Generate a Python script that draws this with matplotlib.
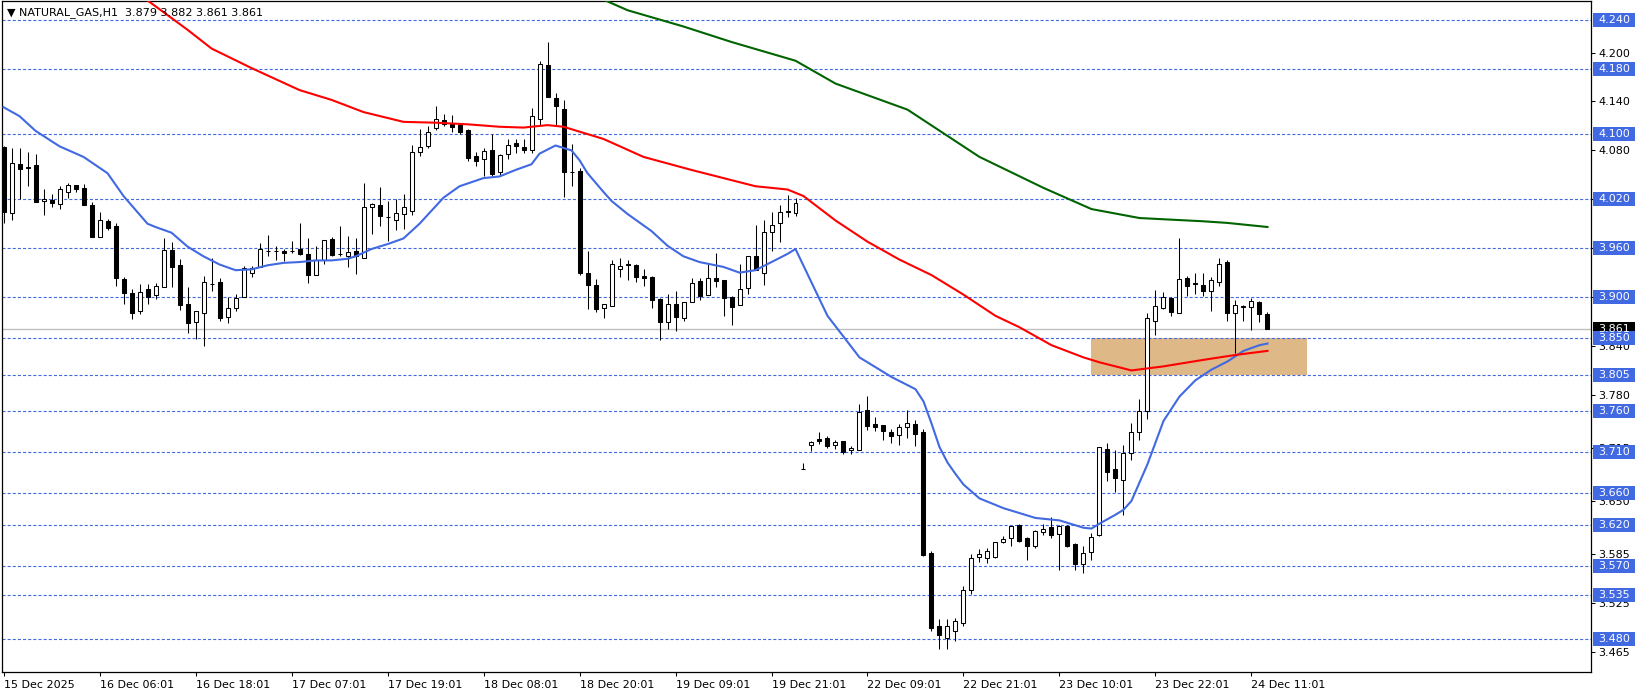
import numpy as np
import matplotlib
matplotlib.use("Agg")
import matplotlib.pyplot as plt
from matplotlib.patches import Rectangle
from matplotlib.transforms import blended_transform_factory

plt.rcParams['font.family'] = ['DejaVu Sans']
plt.rcParams['lines.scale_dashes'] = False

# свечи H1: open, high, low, close
opens = [4.084, 4.003, 4.063, 4.058, 4.062, 4.018, 4.019, 4.014, 4.029, 4.038,
         4.034, 4.013, 3.974, 3.993, 3.987, 3.922, 3.905, 3.883, 3.910, 3.902,
         3.912, 3.958, 3.939, 3.892, 3.870, 3.880, 3.916, 3.918, 3.876, 3.887,
         3.900, 3.930, 3.937, 3.957, 3.957, 3.956, 3.957, 3.959, 3.953, 3.927,
         3.945, 3.971, 3.953, 3.951, 3.956, 3.948, 4.011, 4.013, 3.998, 3.995,
         4.002, 4.006, 4.078, 4.085, 4.108, 4.117, 4.112, 4.111, 4.105, 4.073,
         4.070, 4.081, 4.053, 4.076, 4.089, 4.084, 4.081, 4.119, 4.185, 4.144,
         4.131, 4.054, 4.055, 3.929, 3.915, 3.887, 3.889, 3.935, 3.940, 3.939,
         3.926, 3.925, 3.898, 3.869, 3.891, 3.874, 3.894, 3.920, 3.903, 3.923,
         3.921, 3.900, 3.890, 3.911, 3.951, 3.930, 3.980, 3.991, 4.006, 4.003,
         3.689, 3.718, 3.726, 3.727, 3.718, 3.723, 3.712, 3.712, 3.761, 3.744,
         3.743, 3.735, 3.731, 3.741, 3.744, 3.735, 3.586, 3.496, 3.482, 3.490,
         3.500, 3.540, 3.581, 3.580, 3.581, 3.599, 3.604, 3.620, 3.604, 3.594,
         3.612, 3.618, 3.609, 3.619, 3.597, 3.572, 3.587, 3.608, 3.714, 3.689,
         3.676, 3.709, 3.735, 3.760, 3.871, 3.887, 3.899, 3.881, 3.924, 3.917,
         3.915, 3.907, 3.919, 3.943, 3.881, 3.889, 3.888, 3.894, 3.879]
highs = [4.086, 4.083, 4.083, 4.078, 4.076, 4.033, 4.027, 4.036, 4.040, 4.038,
         4.039, 4.017, 4.004, 3.996, 3.991, 3.925, 3.910, 3.916, 3.916, 3.917,
         3.973, 3.968, 3.947, 3.912, 3.883, 3.926, 3.948, 3.924, 3.900, 3.904,
         3.938, 3.938, 3.966, 3.976, 3.963, 3.959, 3.969, 3.991, 3.972, 3.963,
         3.970, 3.974, 3.987, 3.975, 3.972, 4.040, 4.016, 4.035, 4.018, 4.020,
         4.026, 4.087, 4.106, 4.110, 4.134, 4.125, 4.123, 4.112, 4.106, 4.078,
         4.083, 4.100, 4.076, 4.094, 4.094, 4.094, 4.132, 4.190, 4.213, 4.150,
         4.142, 4.088, 4.059, 3.957, 3.922, 3.891, 3.945, 3.948, 3.945, 3.940,
         3.935, 3.926, 3.899, 3.904, 3.907, 3.894, 3.924, 3.924, 3.941, 3.954,
         3.921, 3.901, 3.941, 3.950, 3.989, 3.995, 4.004, 4.013, 4.025, 4.022,
         3.696, 3.724, 3.734, 3.730, 3.725, 3.723, 3.717, 3.769, 3.779, 3.753,
         3.743, 3.738, 3.744, 3.762, 3.749, 3.738, 3.588, 3.505, 3.505, 3.506,
         3.545, 3.585, 3.591, 3.592, 3.600, 3.607, 3.619, 3.622, 3.606, 3.614,
         3.622, 3.630, 3.620, 3.620, 3.598, 3.594, 3.610, 3.716, 3.721, 3.712,
         3.718, 3.745, 3.775, 3.880, 3.909, 3.906, 3.900, 3.972, 3.926, 3.930,
         3.930, 3.925, 3.948, 3.946, 3.896, 3.890, 3.899, 3.895, 3.882]
lows = [3.991, 3.994, 4.020, 4.036, 4.017, 4.001, 4.011, 4.008, 4.022, 4.029,
        4.013, 3.974, 3.974, 3.982, 3.913, 3.891, 3.873, 3.879, 3.892, 3.898,
        3.912, 3.912, 3.884, 3.856, 3.849, 3.840, 3.908, 3.871, 3.868, 3.883,
        3.900, 3.925, 3.937, 3.950, 3.946, 3.944, 3.954, 3.952, 3.917, 3.927,
        3.941, 3.950, 3.950, 3.937, 3.928, 3.948, 3.977, 3.987, 3.969, 3.982,
        3.984, 4.001, 4.073, 4.083, 4.105, 4.110, 4.102, 4.100, 4.067, 4.061,
        4.049, 4.048, 4.049, 4.070, 4.077, 4.077, 4.077, 4.110, 4.145, 4.111,
        4.023, 4.036, 3.927, 3.885, 3.882, 3.874, 3.889, 3.925, 3.921, 3.918,
        3.914, 3.887, 3.847, 3.861, 3.858, 3.871, 3.894, 3.897, 3.903, 3.912,
        3.877, 3.866, 3.890, 3.904, 3.933, 3.915, 3.956, 3.968, 3.998, 4.000,
        3.689, 3.711, 3.720, 3.715, 3.714, 3.708, 3.708, 3.712, 3.737, 3.736,
        3.725, 3.721, 3.719, 3.727, 3.717, 3.582, 3.490, 3.468, 3.468, 3.478,
        3.497, 3.536, 3.575, 3.574, 3.580, 3.598, 3.595, 3.600, 3.577, 3.592,
        3.608, 3.604, 3.565, 3.593, 3.565, 3.562, 3.577, 3.607, 3.674, 3.661,
        3.633, 3.700, 3.725, 3.750, 3.853, 3.886, 3.877, 3.881, 3.901, 3.904,
        3.901, 3.883, 3.913, 3.871, 3.832, 3.871, 3.860, 3.870, 3.861]
closes = [4.004, 4.064, 4.057, 4.060, 4.017, 4.020, 4.016, 4.033, 4.038, 4.033,
          4.013, 3.974, 3.995, 3.985, 3.923, 3.905, 3.880, 3.906, 3.900, 3.914,
          3.958, 3.937, 3.890, 3.868, 3.883, 3.918, 3.916, 3.874, 3.887, 3.899,
          3.936, 3.936, 3.959, 3.957, 3.957, 3.954, 3.957, 3.953, 3.927, 3.945,
          3.970, 3.952, 3.953, 3.955, 3.950, 4.010, 4.014, 3.999, 3.998, 4.003,
          4.010, 4.078, 4.084, 4.102, 4.118, 4.112, 4.109, 4.103, 4.071, 4.067,
          4.079, 4.051, 4.074, 4.087, 4.086, 4.081, 4.122, 4.186, 4.146, 4.135,
          4.054, 4.054, 3.930, 3.915, 3.886, 3.891, 3.941, 3.938, 3.939, 3.925,
          3.924, 3.896, 3.870, 3.892, 3.875, 3.894, 3.917, 3.901, 3.924, 3.920,
          3.899, 3.888, 3.910, 3.950, 3.933, 3.980, 3.988, 4.005, 4.004, 4.016,
          3.689, 3.722, 3.724, 3.717, 3.722, 3.710, 3.715, 3.759, 3.742, 3.741,
          3.736, 3.730, 3.741, 3.746, 3.732, 3.584, 3.494, 3.486, 3.496, 3.503,
          3.540, 3.580, 3.585, 3.588, 3.600, 3.603, 3.619, 3.601, 3.595, 3.613,
          3.616, 3.608, 3.619, 3.595, 3.572, 3.586, 3.606, 3.716, 3.686, 3.678,
          3.709, 3.735, 3.760, 3.874, 3.889, 3.900, 3.882, 3.922, 3.914, 3.916,
          3.908, 3.921, 3.941, 3.880, 3.890, 3.888, 3.895, 3.879, 3.861]

time_labels = ['15 Dec 2025', '16 Dec 06:01', '16 Dec 18:01', '17 Dec 07:01',
               '17 Dec 19:01', '18 Dec 08:01', '18 Dec 20:01', '19 Dec 09:01',
               '19 Dec 21:01', '22 Dec 09:01', '22 Dec 21:01', '23 Dec 10:01',
               '23 Dec 22:01', '24 Dec 11:01']

# скользящие средние (номер бара -> значение)
blue_bars = [0, 2, 4, 7, 10, 13, 15, 18, 19, 21, 23, 25, 27, 29, 31, 33, 35, 37, 39,
             41, 43, 44, 46, 48, 50, 52, 55, 57, 60, 62, 64, 66, 67, 69, 71, 72, 73,
             75, 76, 78, 81, 83, 85, 87, 90, 92, 94, 96, 98, 99, 103, 107, 110, 111,
             114, 115, 116, 117, 118, 119, 120, 122, 125, 127, 129, 131, 132, 134,
             135, 136, 137, 139, 140, 141, 143, 145, 147, 149, 151, 153, 155, 157, 158]
blue_vals = [4.133, 4.122, 4.104, 4.085, 4.072, 4.052, 4.024, 3.990, 3.986, 3.979,
             3.962, 3.950, 3.940, 3.933, 3.934, 3.939, 3.942, 3.943, 3.945, 3.945,
             3.947, 3.950, 3.959, 3.965, 3.972, 3.990, 4.022, 4.036, 4.046, 4.048,
             4.056, 4.063, 4.076, 4.086, 4.080, 4.068, 4.052, 4.029, 4.018, 4.002,
             3.981, 3.963, 3.950, 3.943, 3.937, 3.930, 3.933, 3.943, 3.953, 3.959,
             3.877, 3.826, 3.808, 3.802, 3.787, 3.772, 3.745, 3.716, 3.697, 3.683,
             3.670, 3.653, 3.641, 3.635, 3.629, 3.627, 3.626, 3.620, 3.617, 3.616,
             3.622, 3.633, 3.639, 3.650, 3.695, 3.748, 3.778, 3.798, 3.811, 3.821,
             3.834, 3.841, 3.843]
red_bars = [14, 18, 23, 26, 31, 37, 41, 45, 50, 54, 58, 62, 65, 68, 70, 72, 75, 80,
            86, 90, 94, 98, 100, 104, 108, 112, 116, 120, 124, 127, 131, 135, 137,
            139, 141, 145, 150, 154, 158]
red_vals = [4.290, 4.264, 4.228, 4.205, 4.181, 4.154, 4.142, 4.127, 4.115, 4.114,
            4.112, 4.109, 4.108, 4.111, 4.109, 4.103, 4.094, 4.072, 4.056, 4.046,
            4.036, 4.032, 4.024, 3.994, 3.968, 3.946, 3.927, 3.903, 3.877, 3.863,
            3.841, 3.826, 3.820, 3.815, 3.810, 3.815, 3.823, 3.829, 3.834]
green_bars = [72, 78, 85, 91, 99, 104, 113, 122, 130, 136, 142, 146, 150, 153, 158]
green_vals = [4.278, 4.252, 4.232, 4.213, 4.190, 4.162, 4.130, 4.072, 4.034, 4.008,
              3.997, 3.995, 3.993, 3.991, 3.986]

levels = [4.240, 4.180, 4.100, 4.020, 3.960, 3.900, 3.850, 3.805,
          3.760, 3.710, 3.660, 3.620, 3.570, 3.535, 3.480]
scale_ticks = [4.200, 4.140, 4.080, 4.020, 3.960, 3.900, 3.840,
               3.780, 3.715, 3.650, 3.585, 3.525, 3.465]
zone_bars = (135.9, 162.9)
zone_prices = (3.805, 3.850)

# оформление
W, H = 1641, 696
fig = plt.figure(figsize=(W / 100, H / 100), dpi=100)
ax = fig.add_axes([2 / W, 24 / H, 1589 / W, 671 / H])
ax.set_xlim(-0.19, 198.44)
ax.set_ylim(3.4400, 4.2633)

o = np.array(opens)
h = np.array(highs)
l = np.array(lows)
c = np.array(closes)
x = np.arange(len(o))
up = c >= o
lo_body = np.minimum(o, c)
body = np.abs(c - o)

ax.vlines(x, l, h, color='black', lw=0.75, zorder=3)
ax.bar(x[up], body[up], bottom=lo_body[up], width=0.5, facecolor='white',
       edgecolor='black', lw=0.75, zorder=4)
ax.bar(x[~up], body[~up], bottom=lo_body[~up], width=0.5, facecolor='black',
       edgecolor='black', lw=0.75, zorder=4)

ax.plot(blue_bars, blue_vals, color='#4169E1', lw=1.5, zorder=5)
ax.plot(red_bars, red_vals, color='#FF0000', lw=1.5, zorder=5)
ax.plot(green_bars, green_vals, color='#006400', lw=1.5, zorder=5)

ax.add_patch(Rectangle((zone_bars[0], zone_prices[0]), zone_bars[1] - zone_bars[0],
                       zone_prices[1] - zone_prices[0], facecolor='#DEB887',
                       edgecolor='none', zorder=2))

for lv in levels:
    ax.axhline(lv, color='#4169E1', lw=0.8, dashes=(2.2, 1.5), zorder=2.2)
ax.axhline(closes[-1], color='#C0C0C0', lw=1.0, zorder=1.5)

# шкала цен справа
ax.yaxis.tick_right()
ax.set_yticks(scale_ticks)
ax.set_yticklabels([f'{t:.3f}' for t in scale_ticks])
ax.tick_params(axis='y', direction='out', length=3, width=0.75, pad=2,
               labelsize=8, colors='black')

ax.set_xticks(np.arange(len(time_labels)) * 12)
ax.set_xticklabels(time_labels)
for lbl in ax.get_xticklabels():
    lbl.set_ha('left')
ax.tick_params(axis='x', direction='out', length=3, width=0.75, pad=3, labelsize=8)

for sp in ax.spines.values():
    sp.set_linewidth(0.9)

tr = blended_transform_factory(ax.transAxes, ax.transData)
bx0, bx1 = 1.0013, 1.0277
bh = 14 / 815


def price_box(val, color):
    ax.add_patch(Rectangle((bx0, val - bh / 2), bx1 - bx0, bh, transform=tr,
                           facecolor=color, edgecolor='none', clip_on=False, zorder=6))
    ax.text((bx0 + bx1) / 2, val, f'{val:.3f}', transform=tr, color='white',
            fontsize=8, ha='center', va='center', clip_on=False, zorder=7)


price_box(closes[-1], 'black')
for lv in levels:
    price_box(lv, '#4169E1')

title = (f'\u25BC NATURAL_GAS,H1  {opens[-1]:.3f} {highs[-1]:.3f} '
         f'{lows[-1]:.3f} {closes[-1]:.3f}')
fig.text(7 / W, 1 - 13 / H, title, fontsize=8, va='center', ha='left', zorder=10)

fig.savefig('out.png', dpi=100)
